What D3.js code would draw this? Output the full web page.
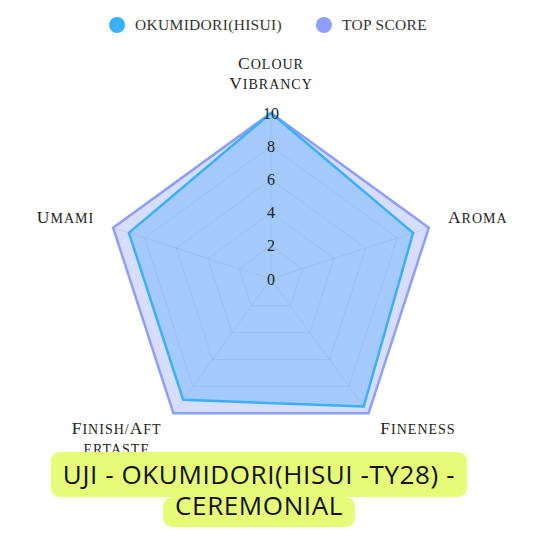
<!DOCTYPE html>
<html>
<head>
<meta charset="utf-8">
<script src="https://cdn.jsdelivr.net/npm/d3@7"></script>
<style>
  body { margin: 0; background: #fff; }
  .lbl { font-family: "Liberation Serif", "DejaVu Serif", serif; letter-spacing: 1px; fill: #222; }
</style>
</head>
<body>
<div id="chart"></div>
<script>
// chart values
var axisNames = ["Colour Vibrancy", "Aroma", "Fineness", "Finish/Aftertaste", "Umami"];
var axisLines = [["Colour", "Vibrancy"], ["Aroma"], ["Fineness"], ["Finish/Aft", "ertaste"], ["Umami"]];
var okumidori = [10, 9, 9.5, 9, 9];
var topScore = [10, 10, 10, 10, 10];
var tickValues = [0, 2, 4, 6, 8, 10];
var seriesNames = ["OKUMIDORI(HISUI)", "TOP SCORE"];
var titleLines = ["UJI - OKUMIDORI(HISUI -TY28) -", "CEREMONIAL"];

var width = 533, height = 533;
var cx = 271, cy = 279, radius = 166;

var svg = d3.select("#chart").append("svg")
	.attr("width", width)
	.attr("height", height);

var rScale = d3.scaleLinear().domain([0, 10]).range([0, radius]);
var aScale = d3.scaleLinear().domain([0, axisNames.length]).range([0, 2 * Math.PI]);

var g = svg.append("g").attr("transform", "translate(" + cx + "," + cy + ")");

// point on the web, angle 0 = up, clockwise
function pt(i, r) {
	var a = aScale(i) - Math.PI / 2;
	return [r * Math.cos(a), r * Math.sin(a)];
}

// grid rings
var ring = d3.lineRadial()
	.angle(function(d, i) { return aScale(i); })
	.radius(function(d) { return rScale(d); })
	.curve(d3.curveLinearClosed);

g.append("g").selectAll("path")
	.data(tickValues.filter(function(t) { return t > 0; }))
	.enter()
	.append("path")
		.attr("d", function(t) { return ring(axisNames.map(function() { return t; })); })
		.attr("fill", "none")
		.attr("stroke", "rgba(0,0,0,0.09)")
		.attr("stroke-width", 1);

g.append("g").selectAll("line")
	.data(axisNames)
	.enter()
	.append("line")
		.attr("x1", 0).attr("y1", 0)
		.attr("x2", function(d, i) { return pt(i, rScale(10))[0]; })
		.attr("y2", function(d, i) { return pt(i, rScale(10))[1]; })
		.attr("stroke", "rgba(0,0,0,0.09)")
		.attr("stroke-width", 1);

// datasets, top score underneath
var series = [
	{name: seriesNames[1], values: topScore, stroke: "#8c9eff", fill: "rgba(140,158,255,0.35)"},
	{name: seriesNames[0], values: okumidori, stroke: "#38b0fb", fill: "rgba(54,162,240,0.32)"}
];

g.append("g").selectAll("path")
	.data(series)
	.enter()
	.append("path")
		.attr("d", function(s) { return ring(s.values); })
		.attr("fill", function(s) { return s.fill; })
		.attr("stroke", function(s) { return s.stroke; })
		.attr("stroke-width", 2.5)
		.attr("stroke-linejoin", "miter");

// tick labels
g.append("g").selectAll("text")
	.data(tickValues)
	.enter()
	.append("text")
		.text(function(d) { return d; })
		.attr("x", 0)
		.attr("y", function(d) { return -rScale(d); })
		.attr("dy", "0.35em")
		.attr("text-anchor", "middle")
		.style("font-family", "'Liberation Serif', serif")
		.style("font-size", "16px")
		.style("fill", "#222");

// small caps by hand: capitals big, the rest as smaller capitals
function smallCaps(line, s) {
	var runs = [];
	s.split("").forEach(function(ch) {
		var big = ch != ch.toLowerCase();
		if (runs.length && runs[runs.length - 1].big == big) runs[runs.length - 1].t += ch;
		else runs.push({big: big, t: ch});
	});
	runs.forEach(function(r) {
		line.append("tspan")
			.style("font-size", r.big ? "17.5px" : "14px")
			.text(r.t.toUpperCase());
	});
}

// point labels
var labelR = radius + 20;
axisLines.forEach(function(lines, i) {
	var p = pt(i, labelR);
	var a = aScale(i) - Math.PI / 2;
	var lg = g.append("g");
	lines.forEach(function(s, k) {
		var t = lg.append("text").attr("class", "lbl")
			.attr("text-anchor", "middle")
			.attr("y", k * 20);
		smallCaps(t, s);
	});
	var bb = lg.node().getBBox();
	var dx, dy;
	var c = Math.cos(a), s = Math.sin(a);
	if (c > 0.1) dx = p[0] - bb.x;
	else if (c < -0.1) dx = p[0] - (bb.x + bb.width);
	else dx = p[0] - (bb.x + bb.width / 2);
	if (s < -0.9) dy = p[1] - (bb.y + bb.height);
	else if (s > 0.5) dy = p[1] - 11 - bb.y;
	else dy = p[1] - 5 - (bb.y + bb.height / 2);
	lg.attr("transform", "translate(" + dx + "," + dy + ")");
});

// legend
var legend = svg.append("g");
var lx = 0;
[series[1], series[0]].forEach(function(s) {
	var item = legend.append("g").attr("transform", "translate(" + lx + ",0)");
	item.append("circle").attr("cx", 8).attr("cy", 0).attr("r", 8).attr("fill", s.stroke);
	var txt = item.append("text")
		.attr("x", 26)
		.attr("dy", "0.35em")
		.text(s.name)
		.style("font-family", "'Liberation Serif', serif")
		.style("font-size", "15.5px")
		.style("letter-spacing", "0.3px")
		.style("fill", "#333");
	lx += 26 + txt.node().getComputedTextLength() + 34;
});
var lw = lx - 34;
legend.attr("transform", "translate(" + (268 - lw / 2) + ",25)");

// title with highlighted background
var title = svg.append("g");
var baselines = [484, 515];
titleLines.forEach(function(s, k) {
	var row = title.append("g");
	var rect = row.append("rect");
	var t = row.append("text")
		.attr("x", 259)
		.attr("y", baselines[k])
		.attr("text-anchor", "middle")
		.text(s)
		.style("font-family", "'Open Sans', sans-serif")
		.style("font-size", "26px")
		.style("letter-spacing", "0.6px")
		.style("font-weight", "500")
		.style("fill", "#111");
	var bb = t.node().getBBox();
	var padX = 12;
	var y0 = k == 0 ? 452 : 497;
	var y1 = k == 0 ? 497 : 527;
	rect.attr("x", bb.x - padX).attr("y", y0)
		.attr("width", bb.width + padX * 2).attr("height", y1 - y0)
		.attr("rx", 9)
		.attr("fill", "#e6fc76");
});
</script>
</body>
</html>
